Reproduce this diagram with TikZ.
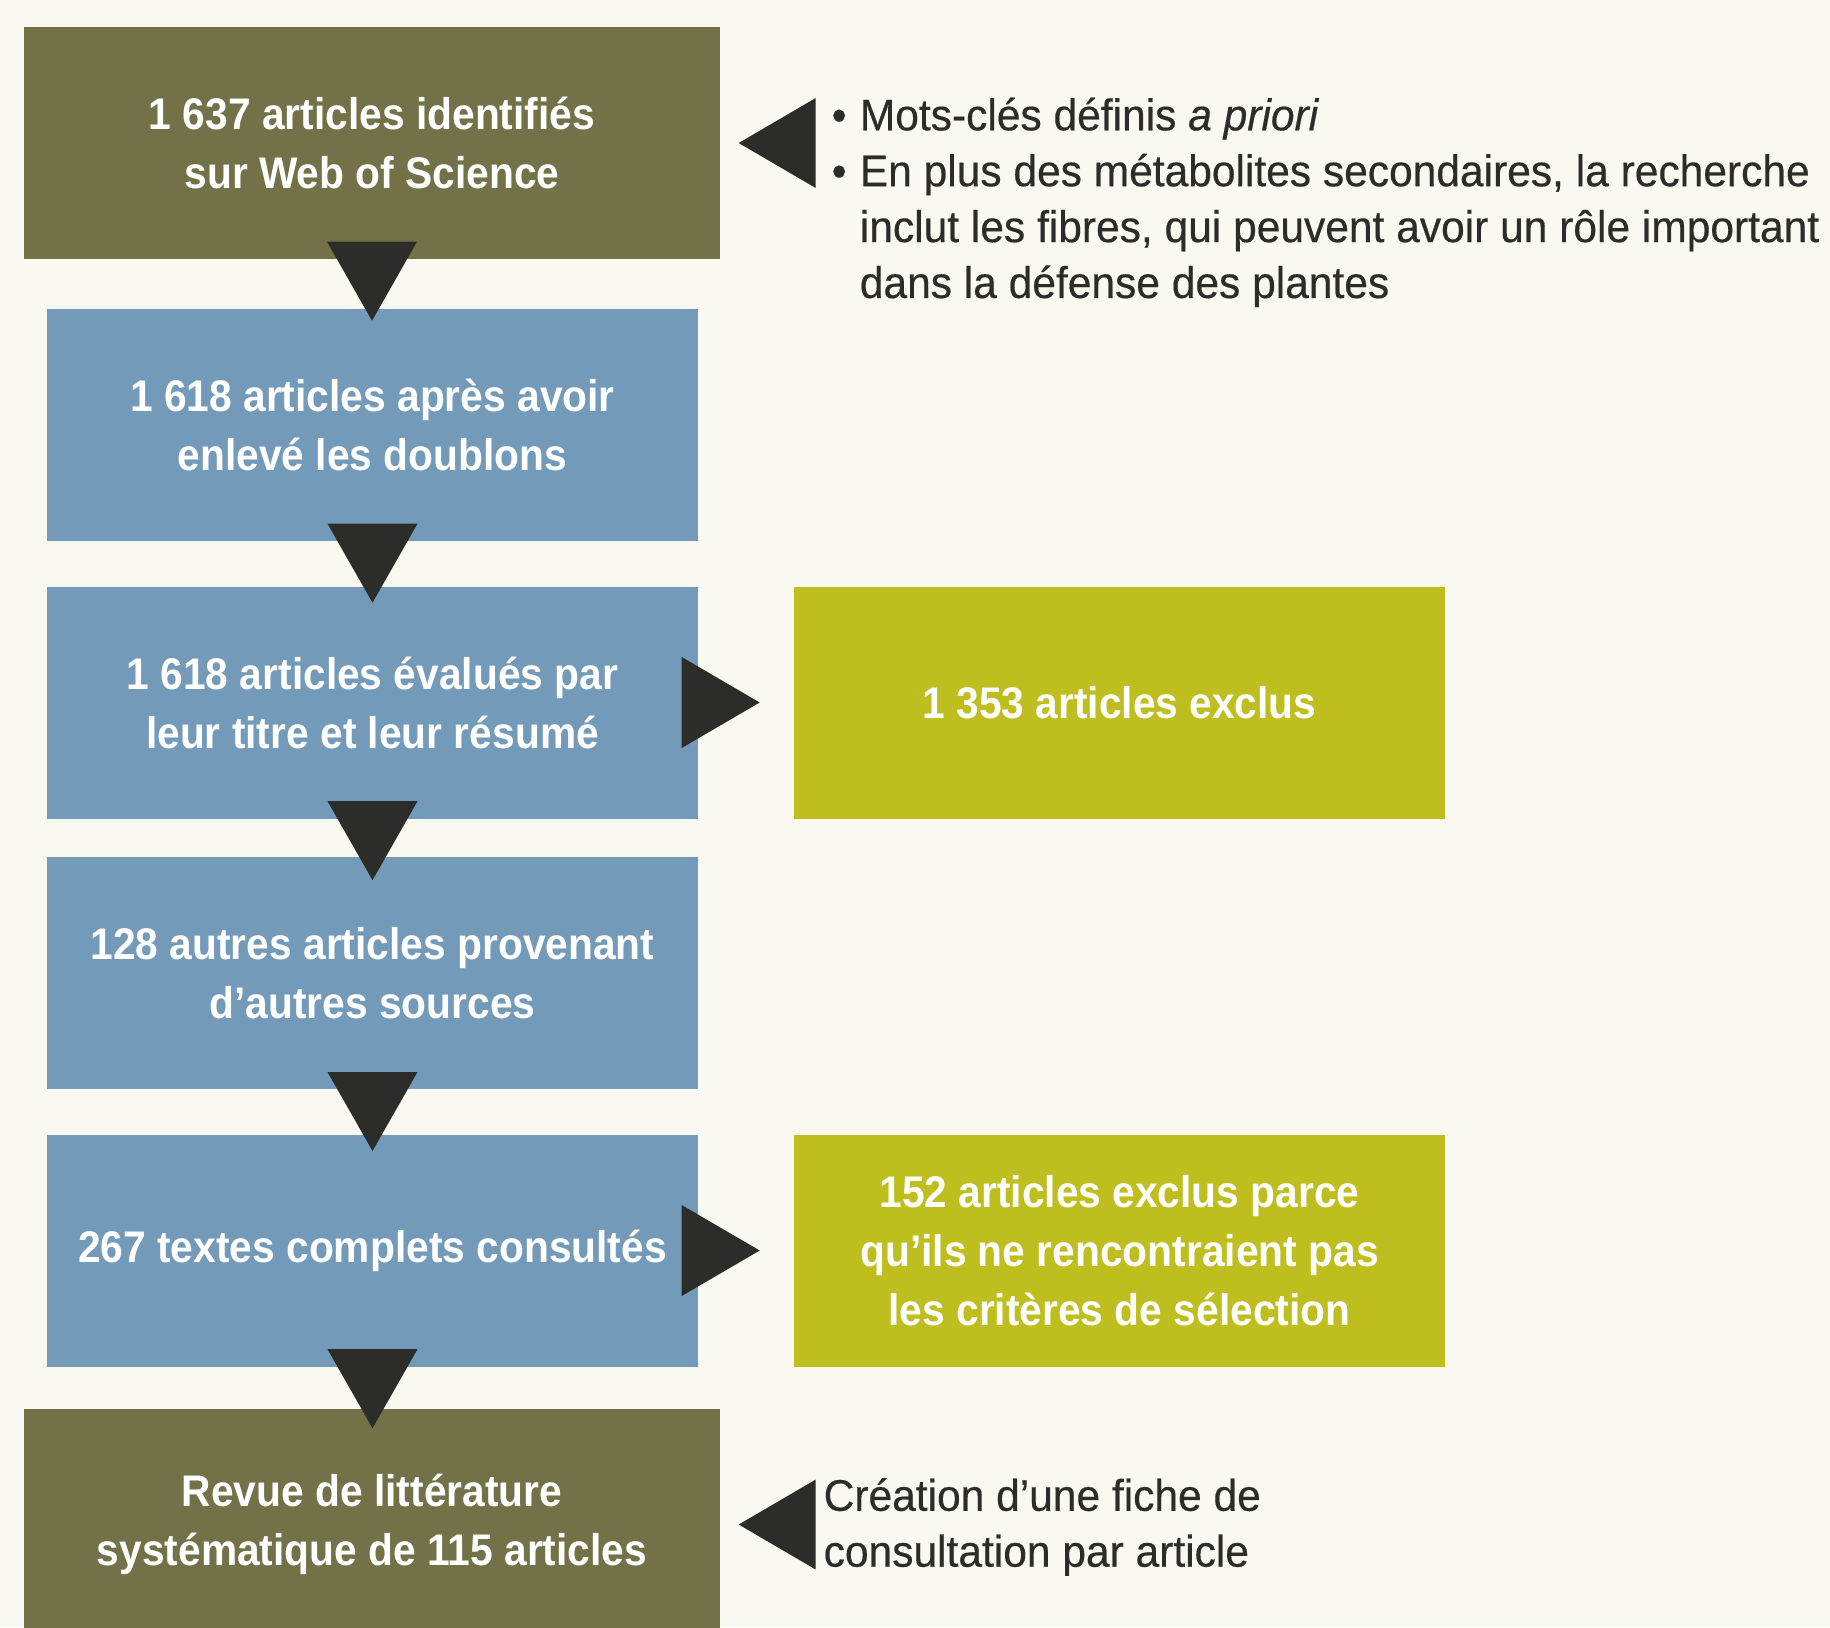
\documentclass[tikz,border=0pt]{standalone}
\usepackage{fontspec}
\setmainfont{Liberation Sans}[FakeStretch=0.92]
\newfontfamily\notefont{Liberation Sans}[FakeStretch=0.96, FakeBold=0.4]
\usepackage{tikz}

\definecolor{boxolive}{HTML}{727147}
\definecolor{boxblue}{HTML}{739AB8}
\definecolor{boxlime}{HTML}{BEBE1E}
\definecolor{tridark}{HTML}{2C2D28}
\definecolor{paper}{HTML}{F9F9F2}
\newcommand{\boxsize}{\fontsize{12.6pt}{16.8pt}\selectfont}
\newcommand{\notesize}{\fontsize{12.6pt}{15.9pt}\selectfont}

\begin{document}
\begin{tikzpicture}[
    box/.style={rectangle, minimum width=6.51cm, minimum height=2.32cm, inner sep=0pt,
      text=white, font={\boxsize\bfseries}, align=center},
    note/.style={inner sep=0pt, text=tridark, font={\notefont\notesize}, align=left},
    tri/.style={fill=tridark}]
        \fill[paper] (0,0) rectangle (18.3,-16.27);
        \useasboundingbox (0,0) rectangle (18.3,-16.27);
        % left column
        \node[box, fill=boxolive, minimum width=6.96cm] (id) at (3.72,-1.43) {1 637 articles identifiés\\sur Web of Science};
        \node[box, fill=boxblue] (dedup) at (3.725,-4.25) {1 618 articles après avoir\\enlevé les doublons};
        \node[box, fill=boxblue] (screen) at (3.725,-7.025) {1 618 articles évalués par\\leur titre et leur résumé};
        \node[box, fill=boxblue] (other) at (3.725,-9.733) {128 autres articles provenant\\d’autres sources};
        \node[box, fill=boxblue] (full) at (3.725,-12.505) {267 textes complets consultés};
        \node[box, fill=boxolive, minimum width=6.96cm] (review) at (3.72,-15.245) {Revue de littérature\\systématique de 115 articles};
        % exclusions
        \node[box, fill=boxlime] (excl1) at (11.195,-7.025) {1 353 articles exclus};
        \node[box, fill=boxlime] (excl2) at (11.195,-12.505) {152 articles exclus parce\\qu’ils ne rencontraient pas\\les critères de sélection};
        % notes
        \node[note, anchor=north west] (keys) at (8.31,-0.97) {\textbullet\hspace{0.3em}Mots-clés définis \textit{a priori}\\
          \textbullet\hspace{0.3em}En plus des métabolites secondaires, la recherche\\
          \hphantom{\textbullet\hspace{0.3em}}inclut les fibres, qui peuvent avoir un rôle important\\
          \hphantom{\textbullet\hspace{0.3em}}dans la défense des plantes};
        \node[note, anchor=west] (sheet) at (8.23,-15.27) {Création d’une fiche de\\consultation par article};
        % triangles
        \foreach \a in {id,dedup,screen,other,full}
          \fill[tri] ([shift={(-0.45,0.18)}]\a.south) -- ([shift={(0.45,0.18)}]\a.south) -- ([yshift=-0.61cm]\a.south) -- cycle;
        \foreach \a in {screen,full}
          \fill[tri] ([shift={(-0.17,0.455)}]\a.east) -- ([shift={(-0.17,-0.455)}]\a.east) -- ([xshift=0.61cm]\a.east) -- cycle;
        \foreach \a in {id,review}
          \fill[tri] ([shift={(0.95,0.45)}]\a.east) -- ([shift={(0.95,-0.45)}]\a.east) -- ([xshift=0.18cm]\a.east) -- cycle;
      \end{tikzpicture}
\end{document}
